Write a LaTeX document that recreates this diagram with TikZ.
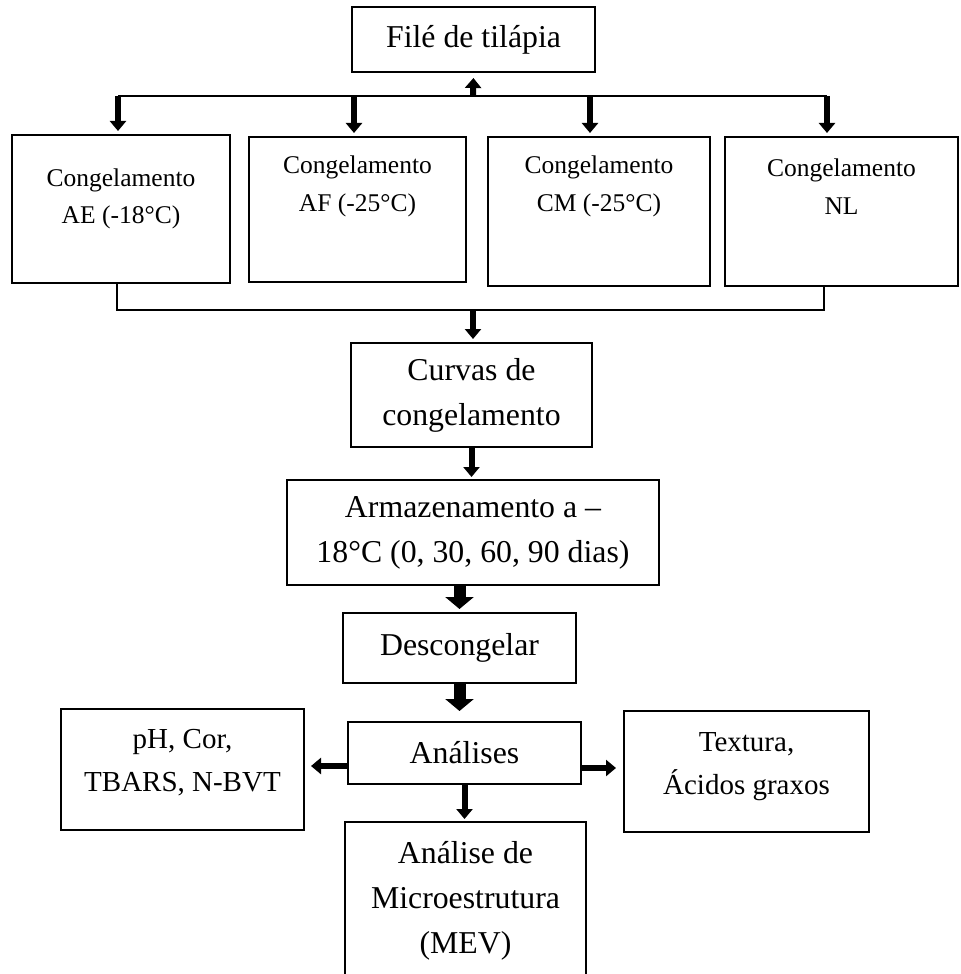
\documentclass[tikz,border=0pt]{standalone}
\usepackage{fontspec}
\setmainfont{Liberation Serif}
\usetikzlibrary{arrows.meta}

\begin{document}
\begin{tikzpicture}[x=0.5pt,y=-0.5pt,every node/.style={draw, line width=1pt, align=center, inner sep=0pt, font=\fontsize{15.9}{22.5}\selectfont},cong/.style={font=\fontsize{12.75}{18.75}\selectfont},side/.style={font=\fontsize{14.5}{21.5}\selectfont},link/.style={line width=1pt},arr/.style={line width=3pt, -{Triangle[width=8pt,length=5pt]}},bigarr/.style={line width=6pt, -{Triangle[width=14pt,length=6pt]}}]
\useasboundingbox (0,0) rectangle (961,974);
\clip (0,0) rectangle (961,974);
% boxes
\node[minimum width=121.5pt, minimum height=32.5pt] (file) at (473.5,39.5) {Filé de tilápia};
\node[cong, minimum width=109pt, minimum height=74pt, text depth=12.8pt] (ae) at (121,209) {Congelamento\\AE (-18°C)};
\node[cong, minimum width=108.5pt, minimum height=72.5pt, text depth=25.8pt] (af) at (357.5,209.5) {Congelamento\\AF (-25°C)};
\node[cong, minimum width=111pt, minimum height=74.5pt, text depth=27.8pt] (cm) at (599,211.5) {Congelamento\\CM (-25°C)};
\node[cong, minimum width=116.5pt, minimum height=74.5pt, text depth=25pt] (nl) at (841.5,211.5) {Congelamento\\NL};
\node[minimum width=120.5pt, minimum height=52pt] (curvas) at (471.5,395) {Curvas de\\congelamento};
\node[minimum width=186pt, minimum height=52.5pt] (arm) at (473,532.5) {Armazenamento a –\\18°C (0, 30, 60, 90 dias)};
\node[minimum width=116.5pt, minimum height=35pt] (desc) at (459.5,648) {Descongelar};
\node[minimum width=116.5pt, minimum height=31pt] (anal) at (464.5,753) {Análises};
\node[side, minimum width=121.5pt, minimum height=60.5pt, text depth=9.5pt] (ph) at (182.5,769.5) {pH, Cor,\\TBARS, N-BVT};
\node[side, minimum width=122.5pt, minimum height=60.5pt, text depth=8.2pt] (tex) at (746.5,771.5) {Textura,\\Ácidos graxos};
\node[minimum width=120.5pt, minimum height=79pt] (mev) at (465.5,901) {Análise de\\Microestrutura\\(MEV)};
% top split
\coordinate (top1) at (118,96);
\coordinate (top2) at (354,96);
\coordinate (top3) at (590,96);
\coordinate (top4) at (827,96);
\coordinate (topmid) at (473,96);
\draw[link] (top1) -- (top4);
\draw[arr, shorten >=2.5pt] (topmid) -- (file.south);
\foreach \c/\b in {top1/ae, top2/af, top3/cm, top4/nl}
  \draw[arr, shorten >=1.5pt] (\c) -- (\c |- \b.north);
% join
\coordinate (bot1) at (117,310);
\coordinate (bot4) at (824,310);
\coordinate (botmid) at (473,310);
\draw[link] (ae.south -| bot1) -- (bot1) -- (bot4) -- (nl.south -| bot4);
\draw[arr, shorten >=1.5pt] (botmid) -- (curvas.north -| botmid);
% main flow
\draw[arr, shorten >=1pt] (curvas.south) -- (curvas.south |- arm.north);
\draw[bigarr, shorten >=1.5pt] (arm.south -| desc.north) -- (desc.north);
\draw[bigarr, shorten >=5pt] (desc.south) -- (desc.south |- anal.north);
\draw[arr, shorten >=3pt] ([yshift=-6.5pt]anal.west) -- ([yshift=-6.5pt]anal.west -| ph.east);
\draw[arr, shorten >=3.5pt] ([yshift=-7.5pt]anal.east) -- ([yshift=-7.5pt]anal.east -| tex.west);
\draw[arr, shorten >=1pt] (anal.south) -- (anal.south |- mev.north);
\end{tikzpicture}
\end{document}
